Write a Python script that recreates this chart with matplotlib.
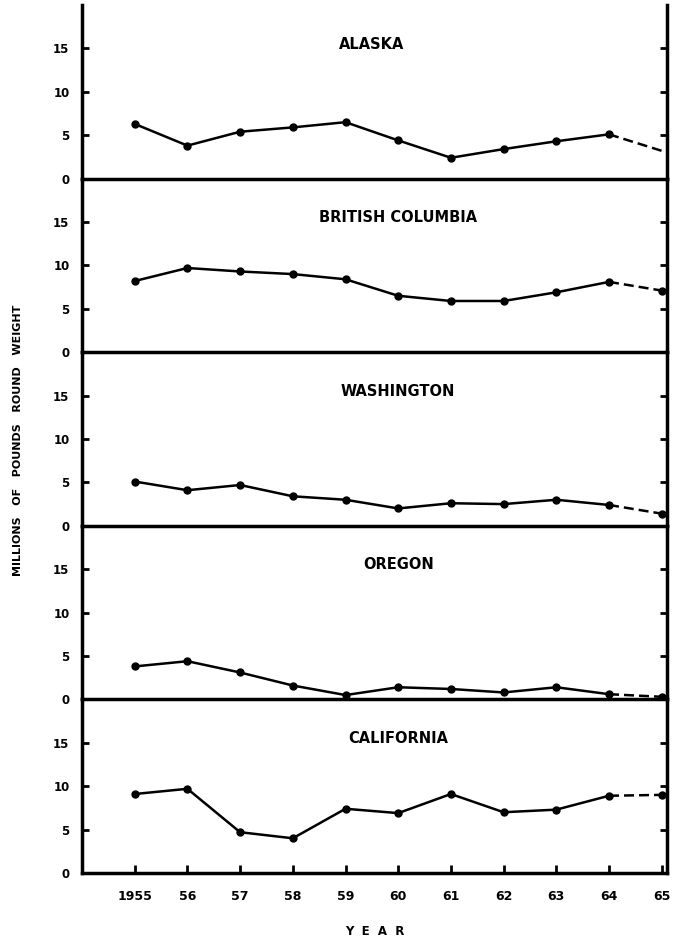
import matplotlib
matplotlib.use("Agg")
import matplotlib.pyplot as plt

years = [1955, 1956, 1957, 1958, 1959, 1960, 1961, 1962, 1963, 1964, 1965]
year_labels = ["1955", "56", "57", "58", "59", "60", "61", "62", "63", "64", "65"]

regions = ["ALASKA", "BRITISH COLUMBIA", "WASHINGTON", "OREGON", "CALIFORNIA"]
alaska = [6.3, 3.8, 5.4, 5.9, 6.5, 4.4, 2.4, 3.4, 4.3, 5.1, 3.2]
british_columbia = [8.2, 9.7, 9.3, 9.0, 8.4, 6.5, 5.9, 5.9, 6.9, 8.1, 7.1]
washington = [5.1, 4.1, 4.7, 3.4, 3.0, 2.0, 2.6, 2.5, 3.0, 2.4, 1.4]
oregon = [3.8, 4.4, 3.1, 1.6, 0.5, 1.4, 1.2, 0.8, 1.4, 0.6, 0.3]
california = [9.1, 9.7, 4.7, 4.0, 7.4, 6.9, 9.1, 7.0, 7.3, 8.9, 9.0]
series = [alaska, british_columbia, washington, oregon, california]
# last year is drawn dashed; Alaska has no dot on it
end_dot = [False, True, True, True, True]
title_x = [1959.5, 1960.0, 1960.0, 1960.0, 1960.0]

fig = plt.figure(figsize=(6.73, 9.43), dpi=100)
gs = fig.add_gridspec(5, 1, left=82/673, right=667/673, top=1-5/943,
                      bottom=1-873/943, hspace=0)

for i, (name, vals) in enumerate(zip(regions, series)):
    ax = fig.add_subplot(gs[i])
    ax.patch.set_visible(False)
    ax.set_zorder(10 - i)
    ax.plot(years[:-1], vals[:-1], color="black", lw=1.8, marker="o", ms=5)
    ax.plot(years[-2:], vals[-2:], color="black", lw=1.8, ls=(0, (4, 2)))
    if end_dot[i]:
        ax.plot(years[-1:], vals[-1:], color="black", marker="o", ms=5, ls="none")
    ax.set_xlim(1954.0, 1965.1)
    ax.set_ylim(0, 20)
    ax.set_yticks([0, 5, 10, 15])
    ax.set_yticklabels(["0", "5", "10", "15"], fontweight="bold", fontsize=8.5)
    ax.text(title_x[i], 15.5, name, ha="center", va="center",
            fontsize=10.5, fontweight="heavy")
    ax.spines["top"].set_visible(False)
    for s in ["left", "right", "bottom"]:
        ax.spines[s].set_linewidth(2.5)
    ax.tick_params(axis="y", direction="in", left=True, right=True,
                   length=5, width=2, pad=9)
    if i < 4:
        ax.set_xticks([])
    else:
        ax.set_xticks(years)
        ax.set_xticklabels(year_labels, fontweight="bold", fontsize=9)
        ax.tick_params(axis="x", direction="in", length=6, width=2, pad=12)
        ax.set_xlabel("Y  E  A  R", fontweight="bold", fontsize=8.5, labelpad=16)

fig.text(18/673, 1-440/943, "MILLIONS   OF   POUNDS   ROUND   WEIGHT",
         rotation=90, ha="center", va="center", fontsize=8, fontweight="bold")

fig.savefig("out.png", dpi=100, facecolor="white")
